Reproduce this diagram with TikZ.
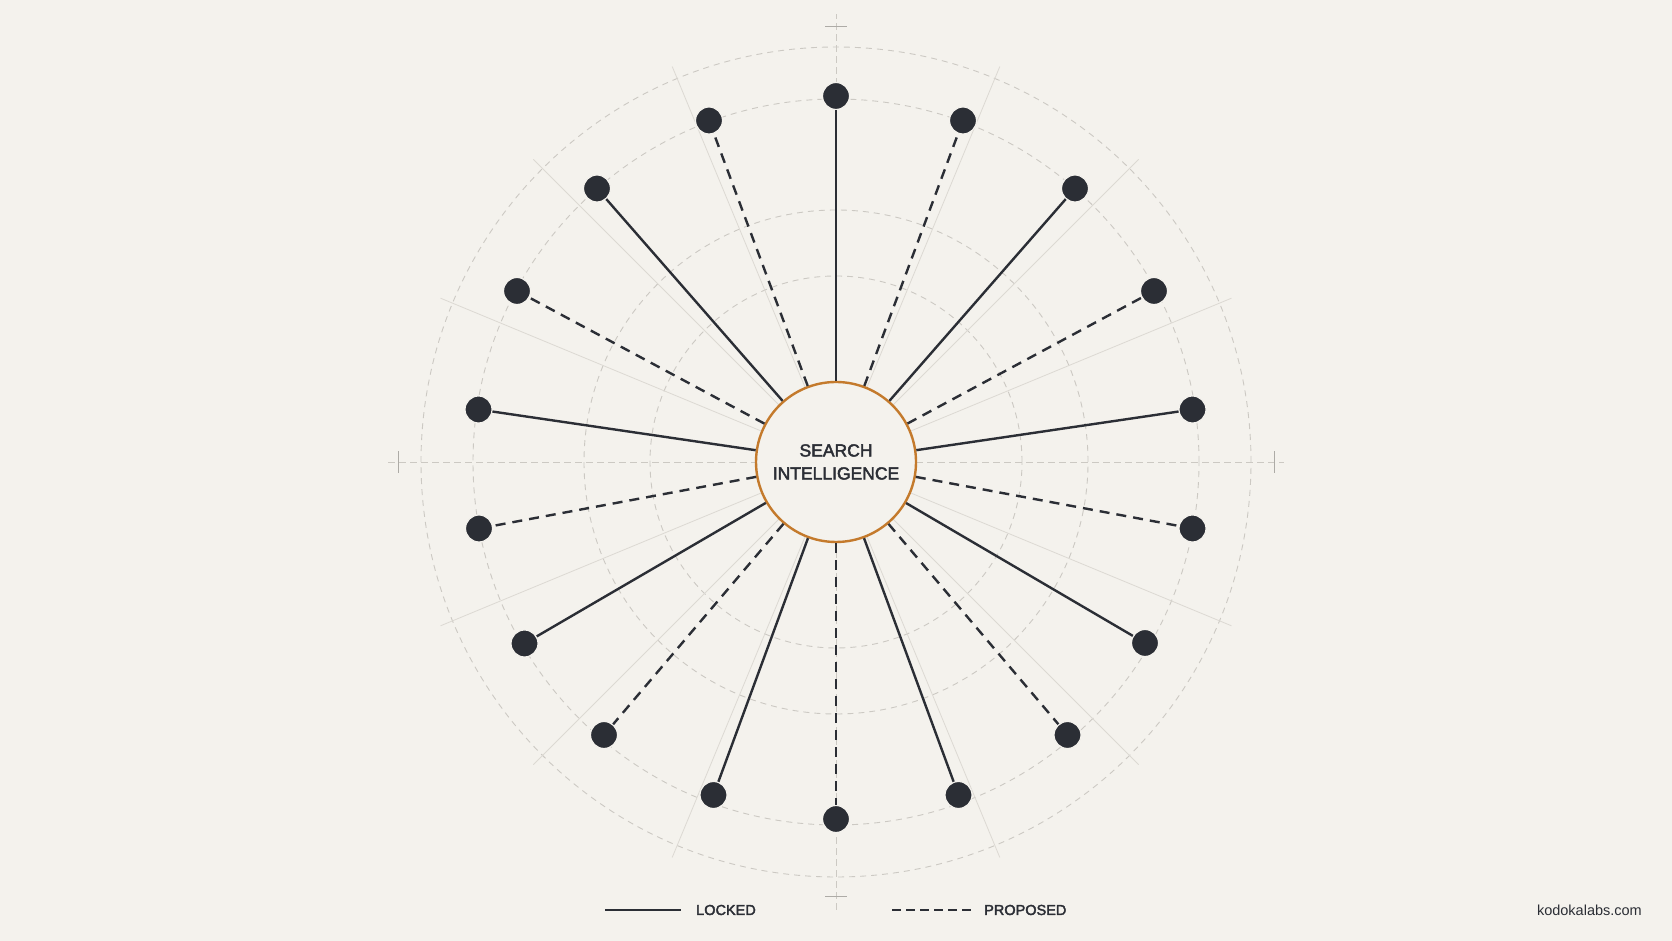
\documentclass[tikz,border=0pt]{standalone}
\usepackage{fontspec}
\usetikzlibrary{calc}
\setmainfont{Liberation Sans}
\newfontfamily\medfont[FakeBold=2.5]{Liberation Sans}
\definecolor{bgc}{HTML}{F4F2ED}
\definecolor{gridc}{HTML}{CCC9C3}
\definecolor{radc}{HTML}{DCD9D3}
\definecolor{ink}{HTML}{2B2E35}
\definecolor{hub}{HTML}{C47A2C}
\tikzset{
  gridcircle/.style={draw=gridc, line width=0.9pt, dash pattern=on 6pt off 5pt},
  radline/.style={draw=radc, line width=0.8pt},
  axisline/.style={draw=gridc, line width=0.8pt, dash pattern=on 7pt off 4pt},
  tick/.style={draw=gridc!85!black, line width=0.9pt},
  dotnode/.style={circle, fill=ink, draw=bgc, line width=1.2pt, minimum size=27pt, inner sep=0pt},
  hubnode/.style={circle, fill=bgc, draw=hub, line width=2.4pt, minimum size=160pt, inner sep=0pt, align=center, font=\medfont\fontsize{17.5}{23}\selectfont, text=ink},
  locked/.style={draw=ink, line width=2.4pt},
  proposed/.style={draw=ink, line width=2.4pt, dash pattern=on 10pt off 7pt},
  legendtext/.style={font=\medfont\fontsize{14.5}{16}\selectfont, text=ink, inner sep=0pt},
}
\begin{document}
\begin{tikzpicture}[x=1pt,y=1pt]
\fill[bgc] (0,0) rectangle (1672,941);
\useasboundingbox (0,0) rectangle (1672,941);
\coordinate (C) at (836,479);
% grid
\foreach \r in {186,252,363,415} {\draw[gridcircle] (C) circle[radius=\r];}
\foreach \k in {1,2,3,5,6,7,9,10,11,13,14,15} {\draw[radline] (C) -- ++({22.5*\k}:428);}
\draw[axisline] (C) ++(-448,0) -- ++(896,0);
\draw[axisline] (C) ++(0,-448) -- ++(0,896);
\draw[tick] (C) ++(-438,-11) -- ++(0,22);
\draw[tick] (C) ++(438,-11) -- ++(0,22);
\draw[tick] (C) ++(-11,436) -- ++(22,0);
\draw[tick] (C) ++(-11,-434) -- ++(22,0);
% hub
\node[hubnode] (c) at (C) {SEARCH\\INTELLIGENCE};
% dots
\foreach \i/\px/\py in {0/836/845, 1/963/820.5, 2/1075/752.5, 3/1154/650, 4/1192.5/531.5, 5/1192.5/412.5,
  6/1145/298, 7/1067.5/206, 8/958.5/146, 9/836/122, 10/713.5/146, 11/604/206,
  12/524.5/297.5, 13/479/412.5, 14/478.5/531.5, 15/517/650, 16/597/752.5, 17/709/820.5} {
  \node[dotnode] (d\i) at (\px,\py) {};
}
% spokes
\foreach \i in {0,...,17} {
  \ifodd\i
    \draw[proposed] (c) -- (d\i);
  \else
    \draw[locked] (c) -- (d\i);
  \fi
}
% legend
\coordinate (la) at (605,31);
\coordinate (lb) at (681,31);
\coordinate (pa) at (892,31);
\coordinate (pb) at (971,31);
\draw[locked] (la) -- (lb);
\draw[ink, line width=2.4pt, dash pattern=on 9pt off 5pt] (pa) -- (pb);
\node[legendtext, anchor=west] (lt) at (696,31) {LOCKED};
\node[legendtext, anchor=west] (pt) at (984,31) {PROPOSED};
\node[font=\fontsize{14.5}{16}\selectfont, text=ink, inner sep=0pt, anchor=east] (site) at (1642,31) {kodokalabs.com};
\end{tikzpicture}
\end{document}
